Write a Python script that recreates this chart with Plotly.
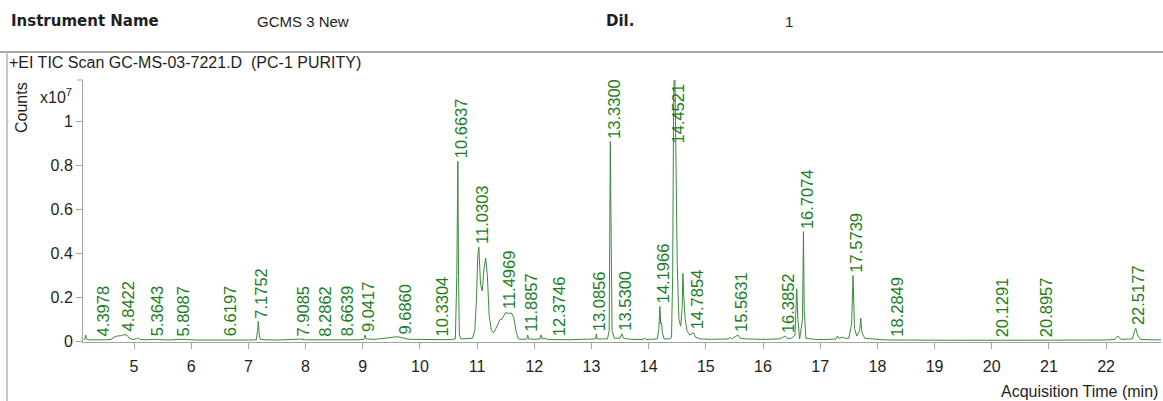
import numpy as np
import plotly.graph_objects as go

# ---- Chromatogram trace: acquisition time (min) vs TIC counts (x10^7) ----
time_min = [
    4.12, 4.14, 4.155, 4.17, 4.20, 4.30, 4.40, 4.50, 4.60, 4.65, 4.70, 4.78, 4.8422, 4.88, 4.92, 4.98,
    5.04, 5.07, 5.10, 5.20, 5.3643, 5.45, 5.60, 5.8087, 5.90, 6.10, 6.30, 6.6197, 6.80, 7.00,
    7.14, 7.16, 7.1752, 7.19, 7.21, 7.30, 7.50, 7.9085, 8.00, 8.2862, 8.50, 8.6639, 8.90,
    9.02, 9.0417, 9.06, 9.20, 9.35, 9.50, 9.60, 9.686, 9.75, 9.85, 10.00, 10.3304, 10.55,
    10.62, 10.645, 10.6637, 10.675, 10.69, 10.72, 10.85, 10.92, 10.96, 10.99, 11.01, 11.0303,
    11.06, 11.09, 11.12, 11.15, 11.18, 11.21, 11.25, 11.29, 11.33, 11.37, 11.40, 11.43, 11.4969,
    11.55, 11.60, 11.64, 11.68, 11.72, 11.80, 11.87, 11.8857, 11.90, 12.00, 12.10, 12.12, 12.14,
    12.20, 12.23, 12.3746, 12.60, 12.80, 13.00, 13.07, 13.0856, 13.10, 13.28, 13.31, 13.322,
    13.33, 13.34, 13.36, 13.40, 13.50, 13.53, 13.56, 13.70, 13.90, 13.93, 13.96, 14.15, 14.18,
    14.1966, 14.21, 14.225, 14.24, 14.27, 14.38, 14.40, 14.42, 14.435, 14.4521, 14.47, 14.50,
    14.53, 14.56, 14.585, 14.60, 14.615, 14.64, 14.67, 14.72, 14.7854, 14.82, 14.90, 15.10,
    15.40, 15.42, 15.45, 15.5631, 15.60, 15.70, 16.00, 16.30, 16.3852, 16.42, 16.50, 16.56,
    16.59, 16.61, 16.64, 16.69, 16.7074, 16.72, 16.75, 16.90, 17.10, 17.28, 17.30, 17.33,
    17.40, 17.43, 17.50, 17.55, 17.5739, 17.60, 17.64, 17.69, 17.71, 17.73, 17.78, 17.90,
    18.10, 18.2849, 18.60, 19.00, 19.50, 20.1291, 20.50, 20.8957, 21.50, 22.00, 22.15, 22.21,
    22.26, 22.46, 22.50, 22.5177, 22.55, 22.60, 22.80, 22.96,
]
counts_e7 = [
    0.008, 0.010, 0.030, 0.012, 0.008, 0.007, 0.008, 0.008, 0.010, 0.020, 0.025, 0.027, 0.032, 0.028, 0.015, 0.010,
    0.012, 0.018, 0.010, 0.008, 0.010, 0.008, 0.007, 0.010, 0.008, 0.007, 0.007, 0.009, 0.007, 0.007,
    0.008, 0.050, 0.092, 0.030, 0.010, 0.008, 0.007, 0.011, 0.008, 0.008, 0.007, 0.008, 0.008,
    0.010, 0.030, 0.012, 0.010, 0.014, 0.020, 0.022, 0.018, 0.013, 0.010, 0.009, 0.009, 0.009,
    0.012, 0.300, 0.820, 0.300, 0.030, 0.012, 0.012, 0.015, 0.050, 0.200, 0.380, 0.430,
    0.260, 0.230, 0.330, 0.380, 0.300, 0.120, 0.050, 0.040, 0.060, 0.088, 0.100, 0.100, 0.132,
    0.128, 0.130, 0.110, 0.050, 0.012, 0.010, 0.012, 0.030, 0.012, 0.010, 0.012, 0.030, 0.012,
    0.015, 0.010, 0.009, 0.008, 0.010, 0.009, 0.012, 0.035, 0.012, 0.012, 0.050, 0.600,
    0.910, 0.600, 0.050, 0.015, 0.015, 0.035, 0.015, 0.010, 0.009, 0.015, 0.009, 0.012, 0.060,
    0.160, 0.080, 0.085, 0.040, 0.012, 0.012, 0.020, 0.300, 1.000, 1.350, 1.000, 0.350,
    0.100, 0.070, 0.150, 0.310, 0.200, 0.100, 0.050, 0.030, 0.040, 0.020, 0.012, 0.010,
    0.012, 0.020, 0.012, 0.030, 0.015, 0.012, 0.010, 0.012, 0.025, 0.015, 0.015, 0.030,
    0.240, 0.100, 0.012, 0.100, 0.500, 0.150, 0.015, 0.010, 0.009, 0.012, 0.025, 0.015,
    0.020, 0.015, 0.015, 0.080, 0.300, 0.060, 0.025, 0.050, 0.107, 0.040, 0.015, 0.012,
    0.008, 0.007, 0.006, 0.006, 0.006, 0.006, 0.006, 0.006, 0.006, 0.007, 0.010, 0.025,
    0.010, 0.012, 0.050, 0.060, 0.030, 0.010, 0.008, 0.008,
]

# ---- Retention-time labels ----
peak_labels = [
    "4.3978", "4.8422", "5.3643", "5.8087", "6.6197", "7.1752", "7.9085", "8.2862", "8.6639",
    "9.0417", "9.6860", "10.3304", "10.6637", "11.0303", "11.4969", "11.8857", "12.3746",
    "13.0856", "13.3300", "13.5300", "14.1966", "14.4521", "14.7854", "15.5631", "16.3852",
    "16.7074", "17.5739", "18.2849", "20.1291", "20.8957", "22.5177",
]

x_ticks = list(range(5, 23))
y_ticks = [0, 0.2, 0.4, 0.6, 0.8, 1.0]
y_tick_text = ["0", "0.2", "0.4", "0.6", "0.8", "1"]

# ---- Page geometry (pixels) ----
W, H = 1163, 401
ML, MR, MT, MB = 83, 2, 80, 59
PW, PH = W - ML - MR, H - MT - MB
X_RANGE = [4.108, 22.96]
Y_RANGE = [-0.002, 1.19]


def px_to_paper_x(px):
    return (px - ML) / PW


def py_to_paper_y(py):
    return (H - MB - py) / PH


FONT = "Liberation Sans"
BOLD_FONT = "DejaVu Sans"
GREEN_LINE = "#3c8a3c"
GREEN_TEXT = "#1b7d1b"
AXIS_GREY = "#a3a3a3"
TEXT = "#1e1e1e"

fig = go.Figure()
fig.add_trace(go.Scatter(
    x=time_min, y=counts_e7, mode="lines",
    line=dict(color=GREEN_LINE, width=1),
    hoverinfo="skip", showlegend=False,
))

annotations = []
t_arr = np.array(time_min)
c_arr = np.array(counts_e7)
for lab in peak_labels:
    rt = float(lab)
    yv = float(np.interp(rt, t_arr, c_arr))
    if yv > Y_RANGE[1]:
        # off-scale peak: pin the label to the top of the plot
        annotations.append(dict(
            x=rt, y=1.0, xref="x", yref="paper", text=lab, textangle=-90,
            showarrow=False, xanchor="center", yanchor="top", xshift=3, yshift=-2,
            font=dict(family=FONT, size=16.5, color=GREEN_TEXT),
        ))
    else:
        annotations.append(dict(
            x=rt, y=yv, xref="x", yref="y", text=lab, textangle=-90,
            showarrow=False, xanchor="center", yanchor="bottom", xshift=3, yshift=1,
            font=dict(family=FONT, size=16.5, color=GREEN_TEXT),
        ))

# Header fields
header = [
    ("<b>Instrument Name</b>", 9, BOLD_FONT, 15), ("GCMS 3 New", 255, FONT, 15),
    ("<b>Dil.</b>", 604, BOLD_FONT, 15), ("1", 783, FONT, 15),
]
for txt, px, fam, sz in header:
    annotations.append(dict(
        x=px_to_paper_x(px), y=py_to_paper_y(21), xref="paper", yref="paper",
        text=txt, showarrow=False, xanchor="left", yanchor="middle",
        font=dict(family=fam, size=sz, color=TEXT),
    ))

# Chart title, axis captions
annotations += [
    dict(x=px_to_paper_x(7), y=py_to_paper_y(63), xref="paper", yref="paper",
         text="+EI TIC Scan GC-MS-03-7221.D  (PC-1 PURITY)", showarrow=False,
         xanchor="left", yanchor="middle", font=dict(family=FONT, size=16, color=TEXT)),
    dict(x=px_to_paper_x(22), y=py_to_paper_y(108), xref="paper", yref="paper",
         text="Counts", textangle=-90, showarrow=False, xanchor="center", yanchor="middle",
         font=dict(family=FONT, size=16, color=TEXT)),
    dict(x=px_to_paper_x(38), y=py_to_paper_y(96), xref="paper", yref="paper",
         text="x10<sup>7</sup>", showarrow=False, xanchor="left", yanchor="middle",
         font=dict(family=FONT, size=16, color=TEXT)),
    dict(x=px_to_paper_x(1160), y=py_to_paper_y(391), xref="paper", yref="paper",
         text="Acquisition Time (min)", showarrow=False, xanchor="right", yanchor="middle",
         font=dict(family=FONT, size=16, color=TEXT)),
]

shapes = [
    # frame lines around the report block
    dict(type="line", xref="paper", yref="paper",
         x0=px_to_paper_x(0), x1=px_to_paper_x(W), y0=py_to_paper_y(52), y1=py_to_paper_y(52),
         line=dict(color="#a8a8a8", width=2)),
    dict(type="line", xref="paper", yref="paper",
         x0=px_to_paper_x(7), x1=px_to_paper_x(7), y0=py_to_paper_y(52), y1=py_to_paper_y(H),
         line=dict(color="#b5b5b5", width=1.5)),
    # end tick at the top of the y axis
    dict(type="line", xref="paper", yref="paper",
         x0=px_to_paper_x(77), x1=0, y0=1, y1=1,
         line=dict(color=AXIS_GREY, width=1)),
]

fig.update_layout(
    width=W, height=H,
    margin=dict(l=ML, r=MR, t=MT, b=MB, pad=0),
    paper_bgcolor="white", plot_bgcolor="white",
    annotations=annotations, shapes=shapes,
    font=dict(family=FONT, color=TEXT),
)
fig.update_xaxes(
    range=X_RANGE, tickvals=x_ticks, ticktext=[str(v) for v in x_ticks],
    showgrid=False, zeroline=False, showline=True, linecolor=AXIS_GREY, linewidth=1,
    ticks="outside", ticklen=6, tickcolor=AXIS_GREY, ticklabelstandoff=4,
    tickfont=dict(family=FONT, size=16, color=TEXT),
)
fig.update_yaxes(
    range=Y_RANGE, tickvals=y_ticks, ticktext=y_tick_text,
    showgrid=False, zeroline=False, showline=True, linecolor=AXIS_GREY, linewidth=1,
    ticks="outside", ticklen=6, tickcolor=AXIS_GREY,
    tickfont=dict(family=FONT, size=16, color=TEXT),
)

fig.write_html("out.html")
